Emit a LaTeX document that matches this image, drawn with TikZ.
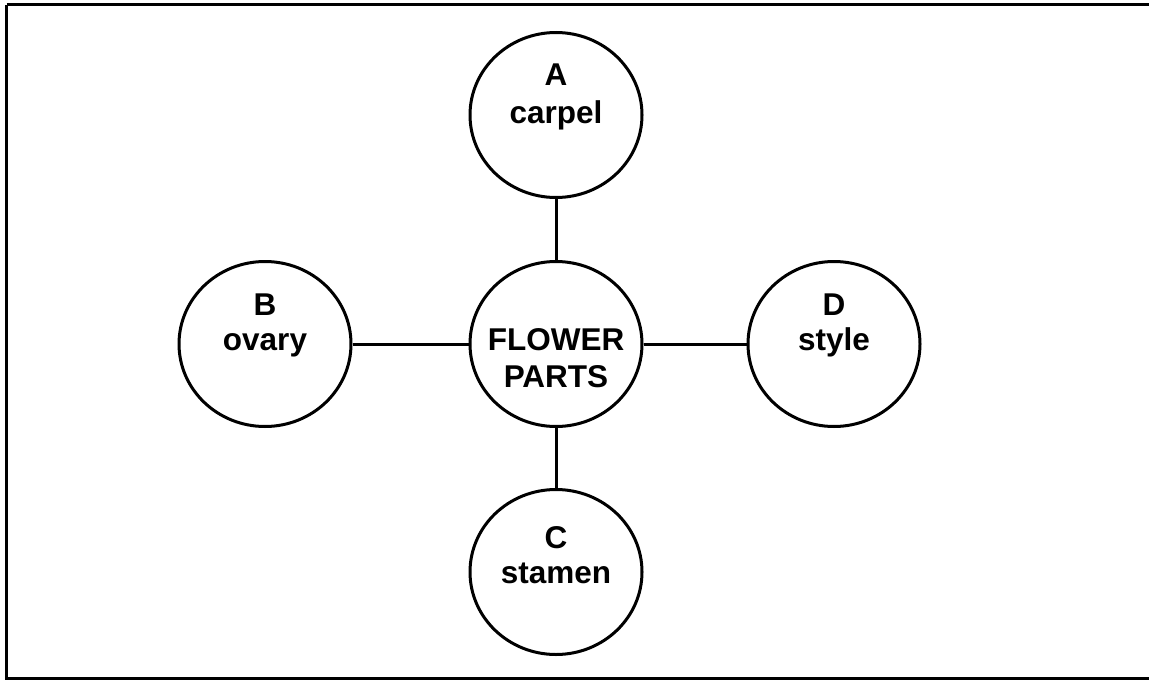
\documentclass[tikz,border=0pt]{standalone}
\usepackage{fontspec}
\setmainfont{Liberation Sans}
\usetikzlibrary{shapes.geometric}
\begin{document}
\begin{tikzpicture}[x=1pt,y=-1pt,
  bubble/.style={ellipse,draw=black,line width=3pt,minimum width=172pt,minimum height=165pt,inner sep=0pt},
  lbl/.style={anchor=base,inner sep=0pt,font=\fontsize{31.5}{37}\selectfont\bfseries},
  link/.style={draw=black,line width=3pt}]
\useasboundingbox (0,0) rectangle (1149,680);
\begin{scope}
\clip (0,0) rectangle (1149,680);
\draw[line width=3pt] (6.5,4.5) -- (1170,4.5);
\draw[line width=3pt] (6.5,4.5) -- (6.5,678.5) -- (1170,678.5);
\end{scope}
\node[bubble] (center) at (556,344) {};
\node[bubble] (A) at (556,115) {};
\node[bubble] (B) at (265,344) {};
\node[bubble] (D) at (834,344) {};
\node[bubble] (C) at (556,572) {};
\draw[link] (A) -- (center);
\draw[link] (B) -- (center);
\draw[link] (center) -- (D);
\draw[link] (center) -- (C);
\node[lbl] (tA1) at (556,85) {A};
\node[lbl] (tA2) at (556,123) {carpel};
\node[lbl] (tB1) at (265,315) {B};
\node[lbl] (tB2) at (265,350) {ovary};
\node[lbl] (tD1) at (834,315) {D};
\node[lbl] (tD2) at (834,350) {style};
\node[lbl] (tC1) at (556,548) {C};
\node[lbl] (tC2) at (556,583) {stamen};
\node[lbl] (tM1) at (556,350) {FLOWER};
\node[lbl] (tM2) at (556,387) {PARTS};
\end{tikzpicture}
\end{document}
